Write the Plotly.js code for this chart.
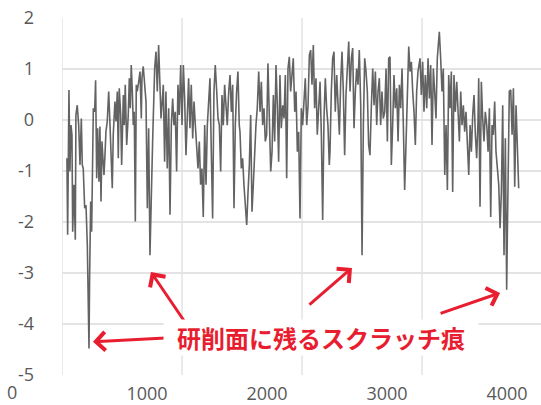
<!DOCTYPE html>
<html><head><meta charset="utf-8">
<script src="https://cdn.plot.ly/plotly-3.0.1.min.js"></script>
<style>html,body{margin:0;padding:0;background:#fff}#chart{width:541px;height:405px}</style>
</head><body><div id="chart"></div>
<script>
// sample position (label units) and measured value
const xs = [333,339,350,358,367,375,381,392,403,408,419,431,442,453,461,469,481,492,503,511,517,522,531,539,553,564,572,581,589,600,608,617,625,633,642,650,658,669,681,692,703,711,719,733,742,753,761,769,781,789,803,811,819,831,844,853,861,869,878,886,894,903,911,919,931,942,953,958,969,981,992,1003,1014,
1025,1036,1047,1064,1075,1086,1097,1108,1117,1125,1136,1147,1158,1169,1181,1192,1203,1214,1225,1236,1247,1258,1269,1281,1292,1303,1314,1325,1336,1347,1358,1369,1381,1392,1403,1414,1425,1436,1447,1458,1469,1481,1492,1503,1514,1525,1536,1547,1558,1569,1581,1592,1603,1614,1625,1636,1647,1658,1669,1681,1692,1703,1714,1725,1736,1747,1758,1769,
1775,1786,1797,1808,1819,1831,1842,1853,1864,1875,1886,1897,1908,1919,1931,1942,1953,1964,1975,1986,1997,2008,2019,2031,2042,2053,2064,2075,2086,2097,2108,2119,2131,2142,2153,2164,2175,2186,2197,2208,2219,2231,2242,2253,2264,2275,2286,2297,2308,2319,2331,2342,2353,2364,2375,2386,2397,2408,2419,2431,2442,2453,2464,2475,2486,2497,2508,2519,
2525,2536,2547,2558,2569,2581,2592,2603,2614,2625,2636,2647,2658,2669,2681,2692,2703,2714,2725,2736,2747,2758,2769,2781,2792,2803,2814,2825,2836,2847,2858,2869,2881,2892,2903,2914,2925,2936,2947,2958,2969,2981,2992,3003,3014,3025,3036,3047,3058,3069,3081,3092,3103,3114,3125,3136,3147,3158,3169,3181,3192,3203,3214,3225,3236,3247,3258,3269,
3275,3286,3297,3308,3319,3331,3342,3353,3364,3375,3386,3397,3408,3419,3431,3436,3447,3458,3469,3481,3492,3503,3514,3525,3536,3547,3558,3569,3581,3592,3603,3614,3625,3636,3647,3658,3669,3681,3692,3703,3714,3725,3736,3747,3758,3764,3775,3786,3797,3808,3819,3831,3842,3853,3864,3875,3886,3897,3908,3919,3931,3942,3953,3964,3975,3986,3997,4003,4008,4019,4031,4042,4053,4064,4075,4086,4097];
const ys = [-0.75,-2.25,0.59,-1.01,-0.10,-0.29,-2.19,-1.27,-2.35,0.10,0.29,-0.10,-0.88,0.03,-0.88,-0.95,-1.73,-1.67,-2.45,-3.37,-4.48,-3.10,-1.60,-2.19,0.23,0.16,0.78,-1.14,-0.16,-1.21,-0.13,-1.60,-0.42,-0.75,-1.08,-0.69,-0.23,-0.03,0.56,-0.10,-0.88,-1.34,-0.29,0.36,-0.03,0.56,-0.75,0.62,0.10,-0.88,0.49,-0.10,0.69,-0.49,0.10,0.82,0.23,1.08,0.56,-0.10,0.16,-1.99,0.69,0.56,0.75,0.95,0.03,0.82,1.05,0.56,0.36,-1.73,-0.16,
-2.65,-1.41,-0.42,1.01,1.34,0.56,1.47,0.69,0.03,0.29,0.69,-0.82,0.56,-0.95,0.23,-1.86,-0.10,0.42,-0.10,0.16,-1.01,0.69,0.10,1.08,-0.10,1.08,0.42,-0.69,0.16,0.82,-0.16,0.69,-0.36,0.36,-0.10,-0.62,-0.95,-0.42,-1.27,-0.95,-1.90,-0.10,-1.27,-0.10,0.36,0.82,-0.62,-1.93,0.56,1.08,0.56,0.03,-0.10,-1.01,0.49,-0.10,0.69,0.29,-0.10,0.56,0.88,0.16,0.69,-1.73,-0.10,0.56,0.95,-0.10,
-0.23,-0.95,-0.75,-1.27,-1.73,-2.06,-1.41,-0.88,0.10,-1.80,-1.27,-0.62,-0.10,0.23,0.95,0.16,0.75,-0.10,0.23,-0.42,-0.29,1.11,-0.10,-1.01,-0.62,0.49,-0.42,1.08,0.29,-0.82,0.88,-0.16,0.29,0.03,0.88,-1.14,1.01,1.24,0.56,1.01,1.21,0.16,0.56,-0.62,-0.23,-1.93,0.23,-0.10,0.29,0.82,-0.10,0.29,1.27,1.37,0.69,1.47,0.23,0.82,-0.29,0.29,0.75,-0.29,-1.96,0.03,0.82,0.23,-0.10,-0.88,
-0.62,0.56,1.21,1.34,0.16,0.88,0.42,-0.29,0.75,1.34,0.56,-0.69,0.49,1.08,1.54,0.56,1.21,1.41,-0.16,0.56,1.01,0.69,1.37,0.29,-2.65,-0.10,1.21,0.95,0.56,-0.49,-0.69,0.23,1.01,0.29,0.95,-0.10,0.56,0.82,-0.10,0.56,0.03,0.16,1.01,-0.42,1.21,1.24,-0.88,-0.10,0.88,0.23,0.62,-0.42,0.69,0.23,1.01,-0.10,-1.37,-0.49,0.56,1.44,0.95,1.14,0.56,0.16,-0.49,0.56,0.95,1.21,
1.21,0.49,1.14,0.16,0.88,0.23,1.21,0.42,1.08,-0.49,1.01,0.56,0.03,1.21,1.57,1.73,1.21,0.56,1.01,-1.08,-0.10,-1.37,0.88,0.23,0.95,-1.41,0.88,0.16,0.75,0.23,-0.42,0.56,-0.10,0.29,-0.23,0.16,-0.42,-1.08,-0.10,-0.62,0.10,0.49,-0.29,-0.75,-0.03,0.82,-1.70,0.75,0.03,-0.42,0.16,-0.10,-0.62,0.23,-1.90,-0.10,-0.29,0.36,-0.62,-0.88,-1.27,-2.12,-1.41,0.29,-2.65,-0.36,-3.33,-2.19,-0.88,0.56,0.59,-0.29,0.62,-1.31,0.29,-0.36,-1.34];

const yTicks = [2,1,0,-1,-2,-3,-4,-5];
const xTickVals = [1000,2000,3000,4000];
const xTickText = ['1000','2000','3000','4000'];
const originLabel = '0';
const gridX = [292,1292,2292,3292];
const note = '研削面に残るスクラッチ痕';
// arrow heads [x, y] and tail offsets in px
const arrowHeads = [[550,-4.35],[1033,-2.98],[2708,-2.90],[3942,-3.39]];
const arrowTails = [[74,-4],[34,50],[-44,38],[-61,21]];

const red = 'rgb(232,30,48)';
const gridColor = '#e3e3e3';
const labelFont = {family:'Open Sans, sans-serif', size:18, color:'#595959'};

const yText = yTicks.map(v => v < 0 ? String(v) : '<span style="color:rgba(0,0,0,0)">-</span>' + v);

const shapes = gridX.map(g => ({type:'line', xref:'x', yref:'paper', x0:g, x1:g, y0:0, y1:1, layer:'below', line:{color:gridColor, width:1.5}}));

const annotations = arrowHeads.map((h,i) => ({
  x:h[0], y:h[1], xref:'x', yref:'y', ax:arrowTails[i][0], ay:arrowTails[i][1],
  text:'', showarrow:true, arrowhead:4, arrowsize:1.2, arrowwidth:3, arrowcolor:red, standoff:0
}));
annotations.push({xref:'paper', yref:'paper', x:0.541, y:0.104, xanchor:'center', yanchor:'middle',
  text:'<b>'+note+'</b>', showarrow:false, bgcolor:'#ffffff', width:312, height:33,
  font:{family:'Noto Sans CJK JP, sans-serif', size:24, color:red}});
annotations.push({xref:'paper', yref:'paper', x:-0.104, y:-0.048, xanchor:'center', yanchor:'middle',
  text:originLabel, showarrow:false, font:labelFont});

const trace = {x:xs, y:ys, type:'scatter', mode:'lines', line:{color:'#636363', width:1.6}, hoverinfo:'skip'};

const layout = {
  width:541, height:405, margin:{l:62, r:0, t:18, b:30},
  paper_bgcolor:'#fff', plot_bgcolor:'#fff', showlegend:false,
  xaxis:{range:[292,4283], tickvals:xTickVals, ticktext:xTickText, showgrid:false, zeroline:false, showline:false, ticks:'', tickfont:labelFont, ticklabelstandoff:6},
  yaxis:{range:[-5,2], tickvals:yTicks, ticktext:yText, showgrid:true, gridcolor:gridColor, gridwidth:1.5, zeroline:false, showline:false, ticks:'', tickfont:labelFont, ticklabelstandoff:27},
  shapes:shapes, annotations:annotations
};
Plotly.newPlot('chart', [trace], layout, {staticPlot:true, displayModeBar:false});
</script></body></html>
